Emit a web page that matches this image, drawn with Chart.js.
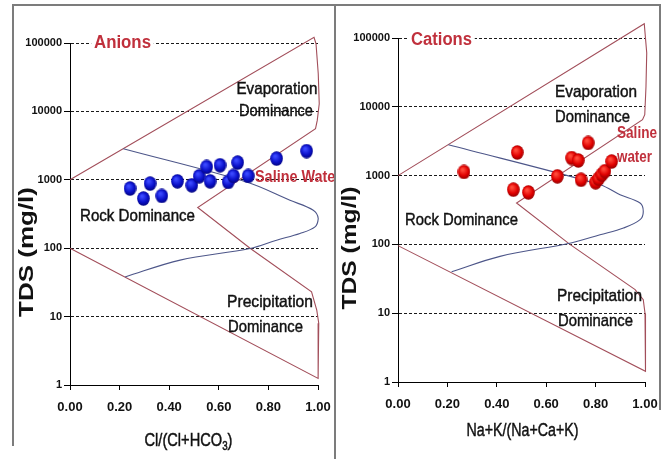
<!DOCTYPE html>
<html>
<head>
<meta charset="utf-8">
<script src="https://cdn.jsdelivr.net/npm/chart.js@4.4.1/dist/chart.umd.min.js"></script>
<style>
html,body{margin:0;padding:0;background:#fff;}
#page{position:relative;width:669px;height:459px;overflow:hidden;background:#fff;}
.panel{position:absolute;}
.rule{position:absolute;background:#7c7c7c;}
</style>
</head>
<body>
<div id="page">
  <div class="rule" style="left:12px;top:4px;width:649px;height:2px"></div>
  <div class="rule" style="left:12px;top:4px;width:2px;height:442px"></div>
  <div class="rule" style="left:334px;top:4px;width:2px;height:455px"></div>
  <div class="rule" style="left:659px;top:4px;width:2px;height:406px"></div>
  <div class="panel" style="left:14px;top:6px"><canvas id="anions" width="320" height="452"></canvas></div>
  <div class="panel" style="left:336px;top:6px"><canvas id="cations" width="323" height="452"></canvas></div>
</div>
<script>
// --- values ---
const X_TICKS   = [0, 0.2, 0.4, 0.6, 0.8, 1.0];
const TDS_TICKS = [1, 10, 100, 1000, 10000, 100000];

// samples, anion panel: Cl/(Cl+HCO3) vs TDS
const ANION_X   = [0.242, 0.296, 0.323, 0.370, 0.433, 0.491, 0.521, 0.551, 0.565, 0.605, 0.638, 0.659, 0.676, 0.719, 0.833, 0.954];
const ANION_TDS = [745,   532,   880,   580,   950,   830,   1125,  1540,  950,   1630,  930,   1137,  1783,  1137,  2040,  2630];

// samples, cation panel: Na+K/(Na+Ca+K) vs TDS
const CATION_X   = [0.267, 0.483, 0.467, 0.528, 0.645, 0.703, 0.730, 0.770, 0.741, 0.800, 0.812, 0.825, 0.838, 0.865];
const CATION_TDS = [1130,  2170,  625,   570,   975,   1800,  1660,  2980,  870,   800,   900,   1030,  1160,  1600];

// Gibbs boundary (outer, red)
const ANION_OUTER_X   = [0, 0.984, 0.992, 1.001, 1.005, 0.997, 0.990, 0.515, 0.726, 0.974, 0.995, 1.003, 1.001, 1.0, 0];
const ANION_OUTER_TDS = [1000, 121000, 97300, 35500, 12900, 7390, 5590, 393, 100, 23, 12.4, 8, 1.66, 1.25, 100];
// inner (blue) curve
const ANION_INNER_X   = [0.215, 0.712, 0.887, 0.981, 1.001, 0.988, 0.927, 0.833, 0.726, 0.444, 0.222];
const ANION_INNER_TDS = [2850, 930, 502, 359, 271, 205, 164, 131, 99, 67, 38];

const CATION_OUTER_X   = [0, 0.997, 1.007, 1.004, 0.999, 0.990, 0.480, 0.696, 0.960, 0.993, 1.0, 1.002, 0];
const CATION_OUTER_TDS = [1000, 161000, 60700, 19800, 7680, 6500, 400, 100, 22, 15.7, 10, 1.43, 96];
const CATION_INNER_X   = [0.204, 0.818, 0.899, 0.980, 0.993, 0.980, 0.913, 0.818, 0.700, 0.413, 0.217];
const CATION_INNER_TDS = [2810, 738, 528, 400, 302, 229, 173, 138, 105, 67, 40];

const RED_TXT = '#c0303c';
const FONT = '"Liberation Sans", Arial, sans-serif';

const pts = (xs, ys) => xs.map((x, i) => ({ x, y: ys[i] }));

function ball(hi, mid, lo){
  const cv = document.createElement('canvas');
  cv.width = 13; cv.height = 15;
  const g = cv.getContext('2d');
  const grd = g.createRadialGradient(5, 5, 1, 6.5, 7.5, 8);
  grd.addColorStop(0, hi); grd.addColorStop(0.55, mid); grd.addColorStop(1, lo);
  g.fillStyle = grd;
  g.beginPath(); g.ellipse(6.5, 7.5, 6.3, 7.3, 0, 0, Math.PI*2); g.fill();
  return cv;
}

// text with optional subscript parts, squeezed to a target width
function drawText(ctx, t){
  const size = t.size || 17;
  const weight = t.bold ? 'bold ' : '';
  const parts = t.parts || [{ s: t.text }];
  ctx.save();
  let total = 0;
  parts.forEach(p => {
    ctx.font = weight + (p.sub ? Math.round(size*0.65) : size) + 'px ' + FONT;
    p.w = ctx.measureText(p.s).width;
    total += p.w;
  });
  const sx = t.w ? t.w / total : 1;
  ctx.translate(t.x, t.y);
  if (t.rot) ctx.rotate(t.rot);
  ctx.scale(sx, 1);
  if (t.bg){
    ctx.fillStyle = '#fff';
    ctx.fillRect(-total/2 - 3, -size*0.6, total + 6, size*1.2);
  }
  ctx.fillStyle = t.color || '#111';
  ctx.strokeStyle = t.color || '#111';
  ctx.lineWidth = 0.45;
  ctx.textBaseline = 'middle';
  let x = -total/2;
  parts.forEach(p => {
    ctx.font = weight + (p.sub ? Math.round(size*0.65) : size) + 'px ' + FONT;
    const y = p.sub ? size*0.3 : 0;
    ctx.fillText(p.s, x, y);
    if (!t.bold) ctx.strokeText(p.s, x, y);
    x += p.w;
  });
  ctx.restore();
}

function labelPlugin(labels, offX, offY){
  return {
    id: 'gibbsText',
    afterDraw(chart){
      const ctx = chart.ctx;
      labels.forEach(l => drawText(ctx, Object.assign({}, l, { x: l.x - offX, y: l.y - offY })));
    }
  };
}

function makeChart(canvasId, opt){
  const blueBall = ball('#3a48ff', '#0a10c8', '#02026e');
  const redBall  = ball('#ff4a3a', '#e00000', '#7e0000');
  return new Chart(document.getElementById(canvasId), {
    type: 'scatter',
    data: {
      datasets: [
        { data: pts(opt.xs, opt.ys), pointStyle: opt.red ? redBall : blueBall, pointRadius: 6, showLine: false, clip: false },
        { data: pts(opt.innerX, opt.innerY), showLine: true, pointRadius: 0, borderColor: '#4d5689', borderWidth: 1.1, tension: 0.35, clip: false },
        { data: pts(opt.outerX, opt.outerY), showLine: true, pointRadius: 0, borderColor: '#a24e5a', borderWidth: 1.1, tension: 0, clip: false }
      ]
    },
    options: {
      responsive: false,
      animation: false,
      events: [],
      layout: { padding: { left: 0, top: opt.area.top, right: opt.padRight, bottom: 0 } },
      plugins: { legend: { display: false }, tooltip: { enabled: false } },
      scales: {
        x: {
          type: 'linear', min: 0, max: 1,
          afterBuildTicks: s => { s.ticks = X_TICKS.map(v => ({ value: v })); },
          afterFit: s => { s.height = opt.xAxisH; s.paddingLeft = 0; s.paddingRight = 0; },
          grid: { drawOnChartArea: false, drawTicks: true, tickLength: 5, tickColor: '#000', color: '#000' },
          border: { display: true, color: '#000', width: 1 },
          ticks: { color: '#111', autoSkip: false, maxRotation: 0, padding: 10,
                   font: { family: FONT, weight: 'bold', size: 13 },
                   callback: v => Number(v).toFixed(2) }
        },
        y: {
          type: 'logarithmic', min: 1, max: 100000,
          afterBuildTicks: s => { s.ticks = TDS_TICKS.map(v => ({ value: v })); },
          afterFit: s => { s.width = opt.area.left; },
          grid: { color: '#1a1a1a', lineWidth: 1, tickLength: 6, tickColor: '#000', tickBorderDash: [] },
          border: { display: true, color: '#000', width: 1, dash: [3, 2] },
          ticks: { color: '#111', autoSkip: false, padding: 2,
                   font: { family: FONT, weight: 'bold', size: 11 },
                   callback: v => String(v) }
        }
      }
    },
    plugins: [labelPlugin(opt.labels, opt.offX, opt.offY)]
  });
}

makeChart('anions', {
  xs: ANION_X, ys: ANION_TDS, red: false,
  innerX: ANION_INNER_X, innerY: ANION_INNER_TDS,
  outerX: ANION_OUTER_X, outerY: ANION_OUTER_TDS,
  area: { left: 56, top: 37 }, padRight: 320 - 304, xAxisH: 452 - 379,
  offX: 14, offY: 6,
  labels: [
    { text: 'Anions', x: 122.5, y: 43, size: 18, bold: true, color: RED_TXT, w: 57, bg: true },
    { text: 'Evaporation', x: 277, y: 89.5, w: 81 },
    { text: 'Dominance', x: 276, y: 111.5, w: 74 },
    { text: 'Saline Water', x: 298, y: 177, size: 17, bold: true, color: RED_TXT, w: 86 },
    { text: 'Rock Dominance', x: 137.5, y: 216, w: 115 },
    { text: 'Precipitation', x: 270, y: 302, w: 86 },
    { text: 'Dominance', x: 265.5, y: 327, w: 75 },
    { text: 'TDS (mg/l)', x: 27, y: 252, size: 21, bold: true, w: 130, rot: -Math.PI/2 },
    { parts: [{ s: 'Cl/(Cl+HCO' }, { s: '3', sub: true }, { s: ')' }], x: 188.5, y: 441, size: 18, w: 88 }
  ]
});

makeChart('cations', {
  xs: CATION_X, ys: CATION_TDS, red: true,
  innerX: CATION_INNER_X, innerY: CATION_INNER_TDS,
  outerX: CATION_OUTER_X, outerY: CATION_OUTER_TDS,
  area: { left: 62, top: 32 }, padRight: 323 - 309, xAxisH: 452 - 376,
  offX: 336, offY: 6,
  labels: [
    { text: 'Cations', x: 441.5, y: 40, size: 18, bold: true, color: RED_TXT, w: 61, bg: true },
    { text: 'Evaporation', x: 596, y: 92, w: 82 },
    { text: 'Dominance', x: 592.5, y: 117, w: 75 },
    { text: 'Saline', x: 637, y: 133, size: 17, bold: true, color: RED_TXT, w: 40 },
    { text: 'water', x: 634.5, y: 157, size: 17, bold: true, color: RED_TXT, w: 35 },
    { text: 'Rock Dominance', x: 461.5, y: 220, w: 113 },
    { text: 'Precipitation', x: 599.5, y: 296, w: 85 },
    { text: 'Dominance', x: 595.5, y: 321, w: 75 },
    { text: 'TDS (mg/l)', x: 350, y: 248, size: 21, bold: true, w: 123, rot: -Math.PI/2 },
    { text: 'Na+K/(Na+Ca+K)', x: 522.5, y: 431, size: 18, w: 112 }
  ]
});
</script>
</body>
</html>
